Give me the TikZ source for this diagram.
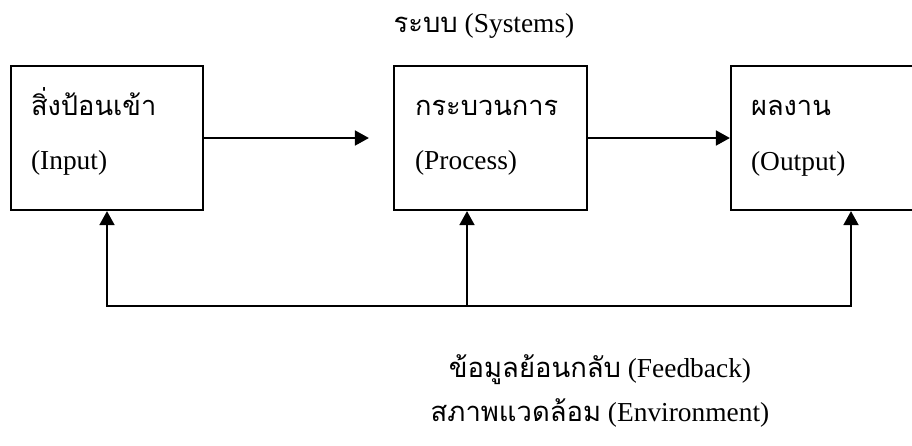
\documentclass[tikz,border=0pt]{standalone}
\usepackage{fontspec}
\setmainfont{Liberation Serif}
\newfontfamily\thaifont[Script=Thai]{Loma}
\usetikzlibrary{arrows.meta, positioning}

\begin{document}
\begin{tikzpicture}[
  x=1pt, y=-1pt,
  box/.style={draw, line width=2.2pt, minimum height=144pt, inner sep=0pt},
  txt/.style={font=\fontsize{27.4}{30}\selectfont, anchor=base west, inner sep=0pt},
  caption/.style={font=\fontsize{27.4}{30}\selectfont, anchor=base, inner sep=0pt},
  th/.style={font=\fontsize{27.2}{30}\selectfont\thaifont},
  arr/.style={-{Triangle[length=14pt, width=15pt]}, line width=1.8pt},
]
  \useasboundingbox (0,0) rectangle (912,445);

  % Title
  \node[caption] (sys) at (484,32) {{\thaifont ระบบ} (Systems)};

  % Boxes
  \node[box, minimum width=192pt] (input) at (107,138) {};
  \node[box, minimum width=193pt] (process) at (490.5,138) {};
  \node[box, minimum width=200pt] (output) at (831,138) {};

  % Box texts
  \node[txt, th] (inth) at ([shift={(21,51)}]input.north west) {สิ่งป้อนเข้า};
  \node[txt] (inen) at ([shift={(21,105)}]input.north west) {(Input)};
  \node[txt, th] (prth) at ([shift={(22,51)}]process.north west) {กระบวนการ};
  \node[txt] (pren) at ([shift={(22,105)}]process.north west) {(Process)};
  \node[txt, th] (outh) at ([shift={(21,51)}]output.north west) {ผลงาน};
  \node[txt] (oten) at ([shift={(21,106)}]output.north west) {(Output)};

  % Arrows
  \draw[arr] (input.east) -- ([xshift=-24pt]process.west);
  \draw[arr] (process.east) -- (output.west);

  % Feedback loop
  \coordinate (fb) at (467,306);
  \coordinate (fbR) at (851,306);
  \draw[arr] (fb) -| (input.south);
  \draw[arr] (fb) -- (fb |- process.south);
  \draw[arr] (fb) -- (fbR) -- (fbR |- output.south);

  % Labels
  \node[caption] (feed) at (600,377) {{\thaifont ข้อมูลย้อนกลับ} (Feedback)};
  \node[caption] (env) at (600,421) {{\thaifont สภาพแวดล้อม} (Environment)};
\end{tikzpicture}
\end{document}
